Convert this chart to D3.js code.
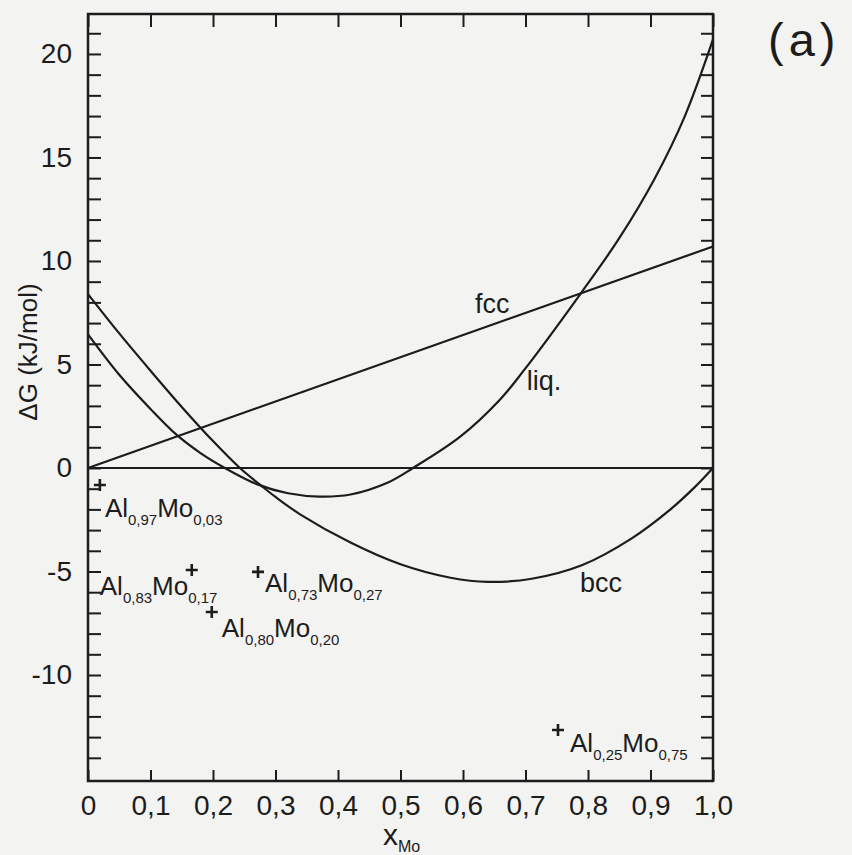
<!DOCTYPE html>
<html>
<head>
<meta charset="utf-8">
<script src="https://cdn.jsdelivr.net/npm/d3@7"></script>
<style>
  body { margin: 0; background: #f3f3f1; }
  svg { display: block; }
  text { font-family: "Liberation Sans", Arial, sans-serif; fill: #1c1c1c; }
</style>
</head>
<body>
<div class="chart"></div>
<script>
// Gibbs energy curves (x_Mo, kJ/mol)
var fccX = [0, 1.0];
var fccG = [0, 10.7];

var liqX = [0, 0.05, 0.1, 0.141, 0.18, 0.219, 0.27, 0.32, 0.37, 0.42, 0.48, 0.52, 0.595, 0.659, 0.697, 0.79, 0.85, 0.907, 0.955, 1.0];
var liqG = [6.45, 4.5, 2.85, 1.62, 0.72, 0, -0.78, -1.22, -1.38, -1.28, -0.7, 0, 1.5, 3.3, 4.7, 8.5, 11.1, 14.0, 17.0, 20.7];

var bccX = [0, 0.05, 0.1, 0.15, 0.2, 0.243, 0.277, 0.3, 0.34, 0.42, 0.5, 0.58, 0.64, 0.71, 0.79, 0.87, 0.93, 0.97, 1.0];
var bccG = [8.4, 6.5, 4.7, 2.95, 1.3, 0, -0.85, -1.4, -2.25, -3.6, -4.65, -5.3, -5.5, -5.35, -4.7, -3.4, -2.05, -0.95, 0];

// measured compounds
var compoundX = [0.019, 0.166, 0.198, 0.272, 0.752];
var compoundG = [-0.82, -4.93, -6.96, -5.02, -12.66];
var compoundAl = ["0,97", "0,83", "0,80", "0,73", "0,25"];
var compoundMo = ["0,03", "0,17", "0,20", "0,27", "0,75"];

// phase labels
var phaseNames = ["fcc", "liq.", "bcc"];
var phaseX = [0.619, 0.702, 0.787];
var phaseG = [7.49, 3.77, -5.99];

// ticks
var xTickValues = d3.range(0, 11).map(d => d / 10);
var yTickValues = d3.range(-14, 22);
var yTickLabels = [-10, -5, 0, 5, 10, 15, 20];

// label offsets from each "+" marker (px)
var labelOffset = [[5, 32], [-92, 25], [10, 25], [7, 20], [12, 22]];

var svgWidth = 852;
var svgHeight = 855;
var frame = { left: 88, right: 713, top: 14, bottom: 781 };
var ink = "#1c1c1c";

var svg = d3.select(".chart")
  .append("svg")
  .attr("width", svgWidth)
  .attr("height", svgHeight);

var xScale = d3.scaleLinear()
  .domain([0, 1])
  .range([frame.left, frame.right]);

var yScale = d3.scaleLinear()
  .domain([-15.12, 21.93])
  .range([frame.bottom, frame.top]);

// axes, ticks pointing inward
function styleAxis(g) {
  g.select(".domain").remove();
  g.selectAll(".tick line").attr("stroke", ink).attr("stroke-width", 2);
  g.selectAll(".tick text").attr("font-size", 28).attr("fill", ink);
}

var xFmt = d => d === 0 ? "0" : d3.format(".1f")(d).replace(".", ",");
var yFmt = d => yTickLabels.includes(d) ? String(d) : "";

svg.append("g")
  .attr("transform", `translate(0, ${frame.bottom})`)
  .call(d3.axisBottom(xScale).tickValues(xTickValues).tickSize(-11).tickPadding(14).tickFormat(xFmt))
  .call(styleAxis);

svg.append("g")
  .attr("transform", `translate(0, ${frame.top})`)
  .call(d3.axisTop(xScale).tickValues(xTickValues).tickSize(-13).tickFormat(""))
  .call(styleAxis);

svg.append("g")
  .attr("transform", `translate(${frame.left}, 0)`)
  .call(d3.axisLeft(yScale).tickValues(yTickValues).tickSize(-13).tickPadding(16).tickFormat(yFmt))
  .call(styleAxis);

svg.append("g")
  .attr("transform", `translate(${frame.right}, 0)`)
  .call(d3.axisRight(yScale).tickValues(yTickValues).tickSize(-12).tickFormat(""))
  .call(styleAxis);

// frame
svg.append("rect")
  .attr("x", frame.left)
  .attr("y", frame.top)
  .attr("width", frame.right - frame.left)
  .attr("height", frame.bottom - frame.top)
  .attr("fill", "none")
  .attr("stroke", ink)
  .attr("stroke-width", 2.5);

// zero line
svg.append("line")
  .attr("x1", xScale(0))
  .attr("x2", xScale(1))
  .attr("y1", yScale(0))
  .attr("y2", yScale(0))
  .attr("stroke", ink)
  .attr("stroke-width", 1.8);

// curves
var line = d3.line()
  .x(d => xScale(d[0]))
  .y(d => yScale(d[1]))
  .curve(d3.curveCatmullRom.alpha(0.5));

[[fccX, fccG], [liqX, liqG], [bccX, bccG]].forEach(function (s) {
  svg.append("path")
    .datum(d3.zip(s[0], s[1]))
    .attr("d", line)
    .attr("fill", "none")
    .attr("stroke", ink)
    .attr("stroke-width", 2.2);
});

// phase names
phaseNames.forEach(function (name, i) {
  svg.append("text")
    .attr("x", xScale(phaseX[i]))
    .attr("y", yScale(phaseG[i]))
    .attr("font-size", 27)
    .text(name);
});

// compound markers and labels
compoundX.forEach(function (cx, i) {
  var px = xScale(cx);
  var py = yScale(compoundG[i]);

  svg.append("path")
    .attr("d", `M${px - 6},${py}H${px + 6}M${px},${py - 6}V${py + 6}`)
    .attr("stroke", ink)
    .attr("stroke-width", 2.6);

  var label = svg.append("text")
    .attr("x", px + labelOffset[i][0])
    .attr("y", py + labelOffset[i][1])
    .attr("font-size", 26);
  label.append("tspan").text("Al");
  label.append("tspan").attr("dy", 8).attr("font-size", 15).text(compoundAl[i]);
  label.append("tspan").attr("dy", -8).text("Mo");
  label.append("tspan").attr("dy", 8).attr("font-size", 15).text(compoundMo[i]);
});

// axis titles
svg.append("text")
  .attr("transform", "translate(37, 352) rotate(-90)")
  .attr("text-anchor", "middle")
  .attr("font-size", 26)
  .text("ΔG (kJ/mol)");

var xTitle = svg.append("text")
  .attr("x", 383)
  .attr("y", 845)
  .attr("font-size", 30);
xTitle.append("tspan").text("x");
xTitle.append("tspan").attr("dy", 7).attr("font-size", 16).text("Mo");

// panel tag
svg.append("text")
  .attr("x", 768)
  .attr("y", 56)
  .attr("font-size", 47)
  .attr("letter-spacing", 5)
  .text("(a)");
</script>
</body>
</html>
